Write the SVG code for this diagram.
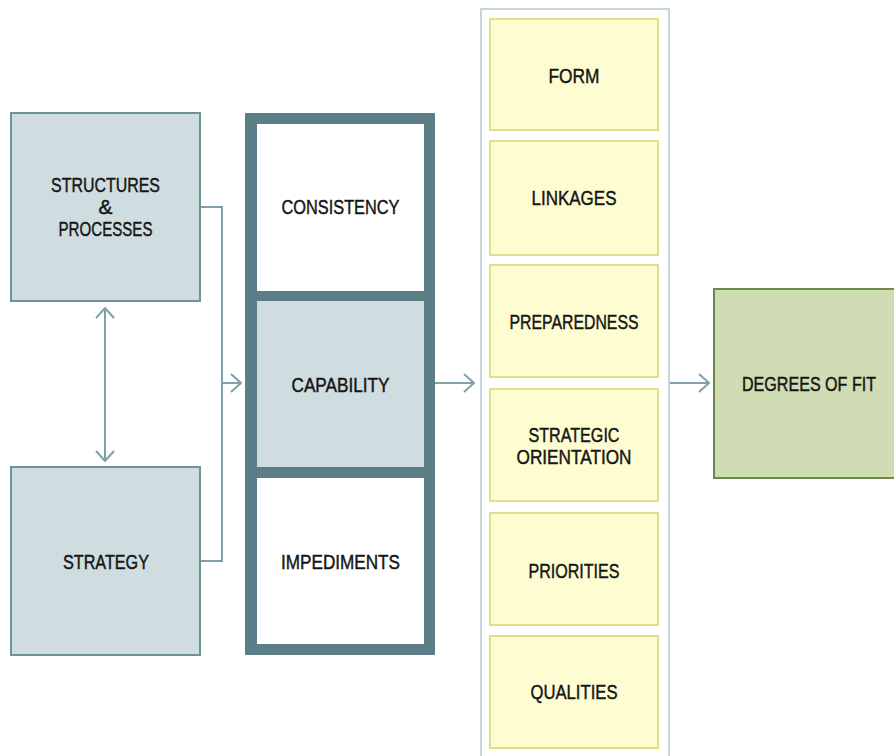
<svg xmlns="http://www.w3.org/2000/svg" width="894" height="756" viewBox="0 0 894 756">
<style>
  text { font-family: "Liberation Sans", Arial, sans-serif; font-size: 21px; fill: #151515; stroke: #151515; stroke-width: 0.45; text-anchor: middle; }
  .blue { fill: #cfdde0; stroke: #6f939b; stroke-width: 2; }
  .frame { fill: #5c7e86; }
  .cell-w { fill: #ffffff; }
  .cell-b { fill: #cfdde0; }
  .yel { fill: #fefdd2; stroke: #e0df8c; stroke-width: 2; }
  .cont { fill: #ffffff; stroke: #c6d6db; stroke-width: 2; }
  .green { fill: #cfdcb4; stroke: #6a8c48; stroke-width: 2; }
  .conn { fill: none; stroke: #7fa2aa; stroke-width: 2; }
</style>
<defs>
  <marker id="arr" viewBox="0 0 12 20" refX="11" refY="10" markerWidth="12" markerHeight="20" markerUnits="userSpaceOnUse" orient="auto-start-reverse">
    <path d="M1,1 L11,10 L1,19" fill="none" stroke="#7fa2aa" stroke-width="2"/>
  </marker>
</defs>
<rect width="894" height="756" fill="#ffffff"/>

<g id="connectors">
  <line class="conn" x1="105" y1="308" x2="105" y2="461" marker-start="url(#arr)" marker-end="url(#arr)"/>
  <polyline class="conn" points="200,207 222,207 222,561 200,561"/>
  <line class="conn" x1="222" y1="383" x2="241" y2="383" marker-end="url(#arr)"/>
  <line class="conn" x1="435" y1="383" x2="474" y2="383" marker-end="url(#arr)"/>
  <line class="conn" x1="669" y1="383" x2="709" y2="383" marker-end="url(#arr)"/>
</g>

<g id="structures">
  <rect class="blue" x="11" y="113" width="189" height="188"/>
  <text x="105.5" y="192" textLength="109" lengthAdjust="spacingAndGlyphs">STRUCTURES</text>
  <text x="105.5" y="214">&amp;</text>
  <text x="105.5" y="236" textLength="94" lengthAdjust="spacingAndGlyphs">PROCESSES</text>
</g>

<g id="strategy">
  <rect class="blue" x="11" y="467" width="189" height="188"/>
  <text x="106" y="569" textLength="86" lengthAdjust="spacingAndGlyphs">STRATEGY</text>
</g>

<g id="middle-frame">
  <rect class="frame" x="245" y="113" width="190" height="542"/>
</g>
<g id="consistency">
  <rect class="cell-w" x="257" y="124" width="167" height="167"/>
  <text x="340.5" y="214" textLength="118" lengthAdjust="spacingAndGlyphs">CONSISTENCY</text>
</g>
<g id="capability">
  <rect class="cell-b" x="257" y="301" width="167" height="166"/>
  <text x="340.5" y="392" textLength="98" lengthAdjust="spacingAndGlyphs">CAPABILITY</text>
</g>
<g id="impediments">
  <rect class="cell-w" x="257" y="478" width="167" height="166"/>
  <text x="340.5" y="569" textLength="119" lengthAdjust="spacingAndGlyphs">IMPEDIMENTS</text>
</g>

<g id="right-container">
  <rect class="cont" x="481" y="9" width="188" height="752"/>
</g>
<g id="form">
  <rect class="yel" x="490" y="19" width="168" height="111"/>
  <text x="574" y="83" textLength="51" lengthAdjust="spacingAndGlyphs">FORM</text>
</g>
<g id="linkages">
  <rect class="yel" x="490" y="141" width="168" height="114"/>
  <text x="574" y="205" textLength="85" lengthAdjust="spacingAndGlyphs">LINKAGES</text>
</g>
<g id="preparedness">
  <rect class="yel" x="490" y="265" width="168" height="112"/>
  <text x="574" y="329" textLength="129" lengthAdjust="spacingAndGlyphs">PREPAREDNESS</text>
</g>
<g id="strategic-orientation">
  <rect class="yel" x="490" y="389" width="168" height="112"/>
  <text x="574" y="442" textLength="91" lengthAdjust="spacingAndGlyphs">STRATEGIC</text>
  <text x="574" y="464" textLength="115" lengthAdjust="spacingAndGlyphs">ORIENTATION</text>
</g>
<g id="priorities">
  <rect class="yel" x="490" y="513" width="168" height="112"/>
  <text x="574" y="578" textLength="91" lengthAdjust="spacingAndGlyphs">PRIORITIES</text>
</g>
<g id="qualities">
  <rect class="yel" x="490" y="636" width="168" height="112"/>
  <text x="574" y="699" textLength="87" lengthAdjust="spacingAndGlyphs">QUALITIES</text>
</g>

<g id="degrees-of-fit">
  <rect class="green" x="714" y="289" width="182" height="189"/>
  <text x="809" y="391" textLength="134" lengthAdjust="spacingAndGlyphs">DEGREES OF FIT</text>
</g>
</svg>
